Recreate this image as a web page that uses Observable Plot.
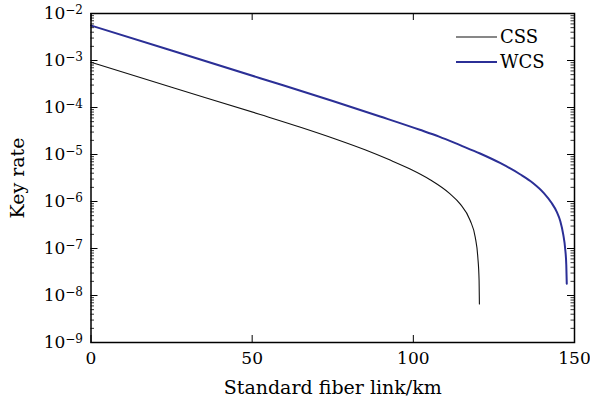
<!DOCTYPE html>
<html><head><meta charset="utf-8">
<script src="https://cdn.jsdelivr.net/npm/d3@7"></script>
<script src="https://cdn.jsdelivr.net/npm/@observablehq/plot@0.6"></script>
<style>
body{margin:0;background:#fff}
#chart svg{font-family:"DejaVu Serif",serif}
</style>
</head><body><div id="chart"></div>
<script>
// Data (distance in km, key rate per pulse)
const cssKm   = [0, 25, 52.5, 65, 75.8, 85, 92.8, 99, 105.2, 111.4, 114.5, 117.6, 119.2, 120.0, 120.4, 120.5];
const cssRate = [9.2e-4, 2.7e-4, 7.1e-5, 3.8e-5, 2.14e-5, 1.26e-5, 7.6e-6, 4.9e-6, 2.9e-6, 1.45e-6, 8.9e-7, 4.0e-7, 1.74e-7, 6.6e-8, 2.1e-8, 6.6e-9];
const wcsKm   = [0, 25, 52.5, 75, 89.7, 102, 108, 114.5, 120.7, 126.9, 133.1, 137, 140.5, 142.8, 144.5, 145.6, 146.5, 147.1, 147.45, 147.6];
const wcsRate = [5.56e-3, 1.63e-3, 4.2e-4, 1.38e-4, 6.45e-5, 3.36e-5, 2.4e-5, 1.58e-5, 1.05e-5, 6.6e-6, 3.8e-6, 2.51e-6, 1.51e-6, 9.5e-7, 6.0e-7, 3.8e-7, 2.0e-7, 1.0e-7, 4.5e-8, 1.78e-8];
const seriesNames  = ["CSS", "WCS"];
const seriesColors = ["#111111", "#2b2f96"];
const xTicks = [0, 50, 100, 150];
const yExponents = [-9, -8, -7, -6, -5, -4, -3, -2];
const xLabel = "Standard fiber link/km";
const yLabel = "Key rate";

const cssData = cssKm.map((km, i) => ({km, rate: cssRate[i], series: seriesNames[0]}));
const wcsData = wcsKm.map((km, i) => ({km, rate: wcsRate[i], series: seriesNames[1]}));
const majors = yExponents.map(e => Math.pow(10, e));
const minors = yExponents.slice(0, -1).flatMap(e => d3.range(2, 10).map(m => m * Math.pow(10, e)));

const W = 590, H = 402, mL = 90.5, mR = 16, mT = 13, mB = 60;
const pw = W - mL - mR, ph = H - mT - mB;

const chart = Plot.plot({
  width: W, height: H,
  marginLeft: mL, marginRight: mR, marginTop: mT, marginBottom: mB,
  style: {fontFamily: "DejaVu Serif", fontSize: "17px", color: "black", background: "white", overflow: "visible"},
  x: {domain: [0, 150]},
  y: {type: "log", domain: [1e-9, 1e-2]},
  marks: [
    Plot.tickY(majors, {y: d => d, insetRight: pw - 7, stroke: "black"}),
    Plot.tickY(majors, {y: d => d, insetLeft: pw - 7, stroke: "black"}),
    Plot.tickY(minors, {y: d => d, insetRight: pw - 3.5, stroke: "black", strokeWidth: 0.8}),
    Plot.tickY(minors, {y: d => d, insetLeft: pw - 3.5, stroke: "black", strokeWidth: 0.8}),
    Plot.tickX(xTicks, {x: d => d, insetTop: ph - 7, stroke: "black"}),
    Plot.tickX(xTicks, {x: d => d, insetBottom: ph - 7, stroke: "black"}),
    Plot.axisX(xTicks, {tickSize: 0, tickPadding: 9, fontSize: 17, label: null}),
    Plot.axisX({tickSize: 0, ticks: [], fontSize: 19, label: xLabel, labelAnchor: "center", labelArrow: "none", labelOffset: 51}),
    Plot.axisY(majors, {tickSize: 0, tickPadding: 8, fontSize: 17, tickFormat: d => "10^" + Math.round(Math.log10(d)), label: null}),
    Plot.axisY({tickSize: 0, ticks: [], fontSize: 19, label: yLabel, labelAnchor: "center", labelArrow: "none", labelOffset: 81}),
    Plot.line(cssData, {x: "km", y: "rate", stroke: seriesColors[0], strokeWidth: 1.1, curve: "monotone-x"}),
    Plot.line(wcsData, {x: "km", y: "rate", stroke: seriesColors[1], strokeWidth: 2, curve: "monotone-x"}),
    Plot.frame({stroke: "black", strokeWidth: 1.5})
  ]
});

// superscript exponents on the y tick labels
d3.select(chart).selectAll('g[aria-label="y-axis tick label"] text').each(function() {
  const t = d3.select(this);
  const s = t.text();
  const m = s.match(/^10\^(-?\d+)$/);
  if (!m) return;
  t.text("10");
  t.append("tspan").attr("dy", "-0.45em").attr("font-size", "12px").text(m[1].replace("-", "\u2212"));
});

// legend inside the plot (top-right)
const svg = d3.select(chart);
const lg = svg.append("g").attr("font-family", "DejaVu Serif").attr("font-size", 18).attr("text-anchor", "start");
seriesNames.forEach((name, i) => {
  const y = 37 + i * 25;
  lg.append("line").attr("x1", 456).attr("x2", 497).attr("y1", y).attr("y2", y)
    .attr("stroke", seriesColors[i]).attr("stroke-width", i === 0 ? 1.1 : 2);
  lg.append("text").attr("x", 500).attr("y", y).attr("dy", "0.35em").attr("fill", "black").text(name);
});

document.getElementById("chart").appendChild(chart);
</script>
</body></html>
